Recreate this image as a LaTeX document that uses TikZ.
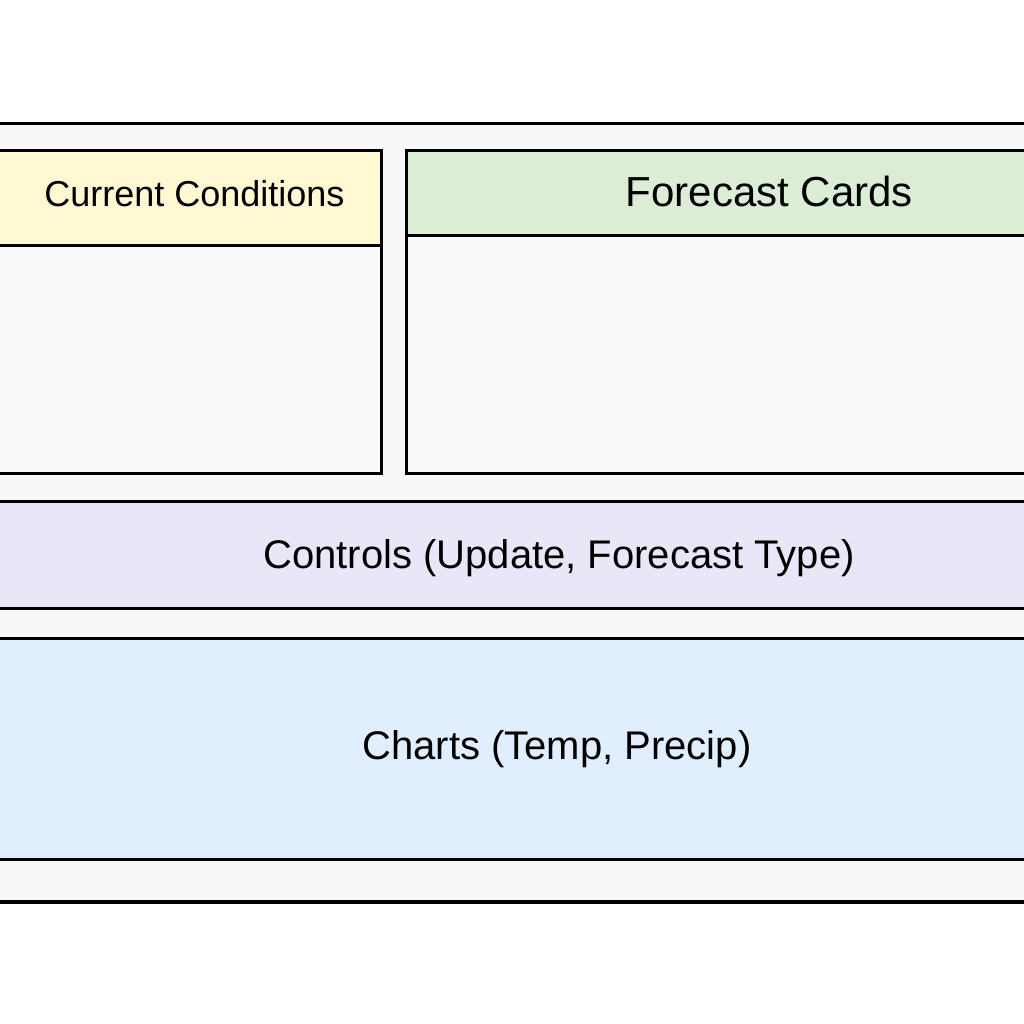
\documentclass[tikz,border=0pt]{standalone}
\usepackage{fontspec}
\setmainfont{Liberation Sans}
\definecolor{bggray}{HTML}{F8F8F8}
\definecolor{bodygray}{HTML}{F9F9F9}
\definecolor{hdryellow}{HTML}{FFF8D2}
\definecolor{hdrgreen}{HTML}{DBEDD4}
\definecolor{ctrllav}{HTML}{EAE6F7}
\definecolor{chartblue}{HTML}{E1EEFD}
\tikzset{
  panel/.style={draw=black, line width=3pt, rectangle, inner sep=0pt, anchor=north west},
  outerpanel/.style={panel, line width=3.5pt, fill=bggray},
  lbl/.style={anchor=base, inner sep=0pt, text=black}
}
\begin{document}
\begin{tikzpicture}[x=1pt,y=-1pt]
\useasboundingbox (0,0) rectangle (1024,1024);
\fill[white] (0,0) rectangle (1024,1024);
\clip (0,0) rectangle (1024,1024);
% outer frame
\node[outerpanel, minimum width=1084pt, minimum height=778pt] (frame) at (-30,122) {};
% current conditions
\node[panel, fill=bodygray, minimum width=410pt, minimum height=323pt] (ccbody) at (-30,149) {};
\node[panel, fill=hdryellow, minimum width=410pt, minimum height=95pt] (cchead) at (-30,149) {};
\node[lbl, font=\fontsize{36}{40}\selectfont] (cctext) at (194.5,207) {Current Conditions};
% forecast cards
\node[panel, fill=bodygray, minimum width=660pt, minimum height=323pt] (fcbody) at (405,149) {};
\node[panel, fill=hdrgreen, minimum width=660pt, minimum height=85pt] (fchead) at (405,149) {};
\node[lbl, font=\fontsize{42}{46}\selectfont] (fctext) at (769.5,207) {Forecast Cards};
% controls
\node[panel, fill=ctrllav, minimum width=1084pt, minimum height=107pt] (ctrl) at (-30,500) {};
\node[lbl, font=\fontsize{40}{44}\selectfont] (ctrltext) at (559,568) {Controls (Update, Forecast Type)};
% charts
\node[panel, fill=chartblue, minimum width=1084pt, minimum height=221pt] (charts) at (-30,637) {};
\node[lbl, font=\fontsize{40}{44}\selectfont] (chartstext) at (557,759) {Charts (Temp, Precip)};
\end{tikzpicture}
\end{document}
